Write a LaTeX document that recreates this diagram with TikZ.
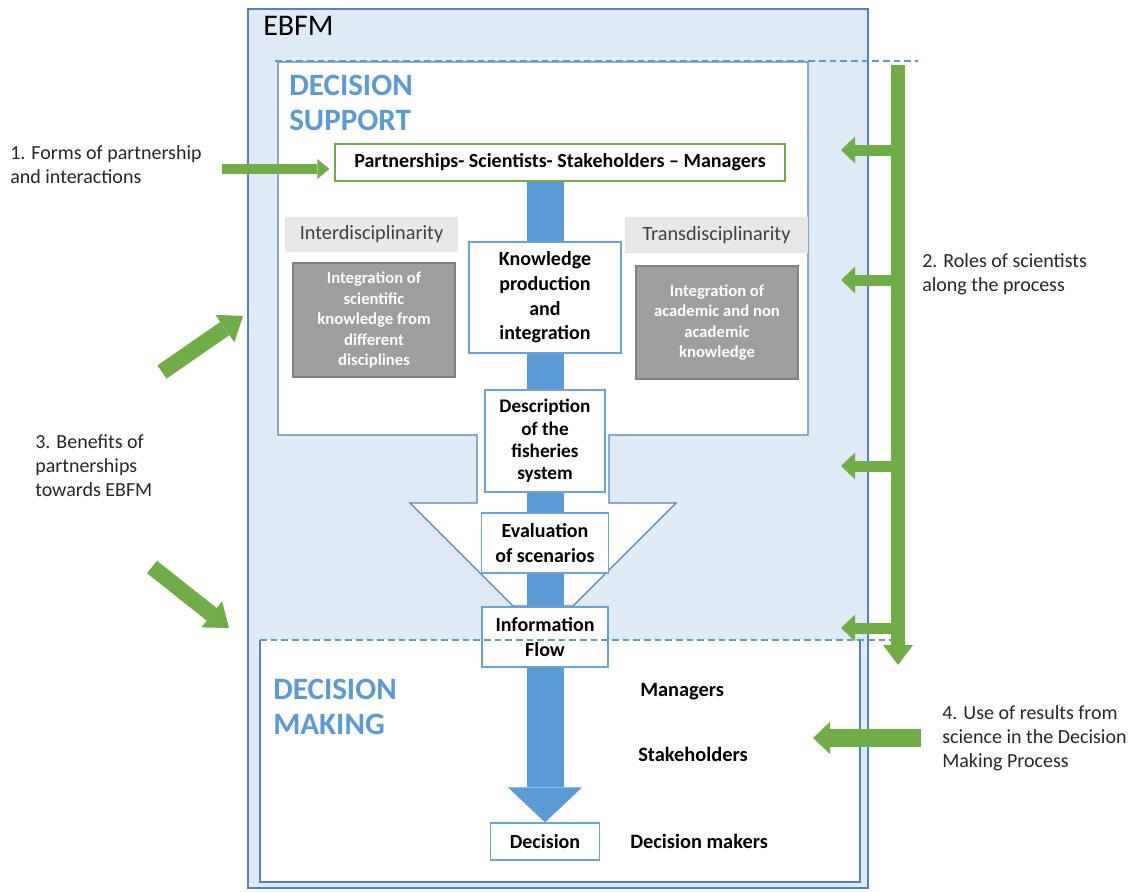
\documentclass[tikz,border=0pt]{standalone}
\usepackage{fontspec}
\setmainfont{Carlito}
\usetikzlibrary{arrows.meta,backgrounds}

\definecolor{ebfmfill}{RGB}{222,234,246}
\definecolor{ebfmline}{RGB}{84,130,190}
\definecolor{titleblue}{RGB}{91,155,213}
\definecolor{boxline}{RGB}{104,163,218}
\definecolor{arrowgreen}{RGB}{112,173,71}
\definecolor{darkgraybox}{RGB}{158,158,158}
\definecolor{grayborder}{RGB}{128,128,128}
\definecolor{lightgraybox}{RGB}{232,232,232}
\definecolor{headtext}{RGB}{64,64,64}

\begin{document}
\begin{tikzpicture}[x=0.75pt,y=0.75pt,yscale=-1,xscale=1,
    dashline/.style={draw=titleblue, line width=0.9pt, dash pattern=on 5pt off 3pt},
    bigtitle/.style={anchor=north west, inner sep=0pt, align=left, text=titleblue, font=\fontsize{23.3}{26.5}\selectfont\bfseries},
    procbox/.style={draw=boxline, fill=white, line width=0.9pt, align=center, inner sep=0pt, font=\fontsize{15}{18.5}\selectfont\bfseries},
    headbox/.style={fill=lightgraybox, inner sep=0pt, text=headtext, font=\fontsize{15.2}{18}\selectfont},
    graybox/.style={draw=grayborder, fill=darkgraybox, line width=0.9pt, align=center, inner sep=0pt, text=white, font=\fontsize{12.5}{15.4}\selectfont\bfseries},
    actor/.style={anchor=base west, inner sep=0pt, font=\fontsize{15.3}{18}\selectfont\bfseries},
    sidelabel/.style={anchor=west, inner sep=0pt, align=left, text=black!85, font=\fontsize{15}{18}\selectfont},
    greenarrow/.style={draw=arrowgreen, line width=#1},
    flowbar/.style={draw=titleblue, line width=27.75pt, -{Triangle[length=26.25pt, width=55.5pt, line width=0pt]}}
  ]
  \useasboundingbox (0,0) rectangle (1136,892);

  % frames
  \begin{scope}[on background layer]
    \draw [ebfmline, fill=ebfmfill, line width=0.9pt] (248,9) rectangle (868,888);
    \draw [ebfmline, fill=white, line width=0.9pt] (278,62) -- (808,62) -- (808,435) -- (609,435) -- (609,503) -- (676,503) -- (573,606) -- (513,606) -- (410,503) -- (477,503) -- (477,435) -- (278,435) -- cycle;
    \fill [white] (260,640) rectangle (860,882);
    \draw [ebfmline, line width=0.9pt] (260,640) -- (260,882) -- (860,882) -- (860,640);
    \draw [dashline] (275,61) -- (918,61);
  \end{scope}

  % titles
  \node [anchor=base west, inner sep=0pt, font=\fontsize{22.5}{26}\selectfont] (ebfm) at (263,36) {EBFM};
  \node [bigtitle] (dstitle) at (289,75) {DECISION\\SUPPORT};
  \node [bigtitle] (dmtitle) at (273,679) {DECISION\\MAKING};

  % decision support
  \node [draw=arrowgreen, fill=white, line width=0.9pt, inner sep=0pt, minimum width=337.5pt, minimum height=27.75pt, font=\fontsize{15}{18}\selectfont\bfseries] (partner) at (560,162.5) {Partnerships- Scientists- Stakeholders -- Managers};

  \node [headbox, minimum width=129.75pt, minimum height=26.25pt] (interhead) at (371.5,234.5) {Interdisciplinarity};
  \node [graybox, minimum width=121.5pt, minimum height=85.5pt] (interbox) at (374,320) {Integration of\\scientific\\knowledge from\\different\\disciplines};
  \node [headbox, minimum width=137.25pt, minimum height=27pt] (transhead) at (716.5,235) {Transdisciplinarity};
  \node [graybox, minimum width=121.5pt, minimum height=84.75pt] (transbox) at (717,322.5) {Integration of\\academic and non\\academic\\knowledge};

  \node [procbox, minimum width=114pt, minimum height=83.25pt] (knowledge) at (545,297.5) {Knowledge\\production\\and\\integration};
  \node [procbox, font=\fontsize{14.4}{16.8}\selectfont\bfseries, minimum width=90pt, minimum height=76.5pt] (description) at (545,441) {Description\\of the\\fisheries\\system};
  \node [procbox, font=\fontsize{15}{18.75}\selectfont\bfseries, minimum width=95.25pt, minimum height=45pt] (evaluation) at (545,543) {Evaluation\\of scenarios};
  \node [procbox, font=\fontsize{15}{18.75}\selectfont\bfseries, minimum width=94.5pt, minimum height=45pt] (information) at (545,637) {Information\\Flow};

  % decision making
  \node [procbox, minimum width=81.75pt, minimum height=27.75pt] (decision) at (545,841.5) {Decision};
  \node [actor] (managers) at (640,696) {Managers};
  \node [actor] (stakeholders) at (638,761) {Stakeholders};
  \node [actor] (decmakers) at (630,848) {Decision makers};
  \draw [dashline] (260,640) -- (905,640);

  % information flow
  \begin{scope}[on background layer]
    \draw [flowbar] (partner.south -| decision.north) -- (decision.north);
  \end{scope}

  % side labels
  \node [sidelabel] (forms) at (10,165) {1. Forms of partnership\\and interactions};
  \node [sidelabel] (roles) at (922,274) {2. Roles of scientists\\along the process};
  \node [sidelabel] (benefits) at (35,466) {3. Benefits of\\partnerships\\towards EBFM};
  \node [sidelabel] (use) at (942,738) {4. Use of results from\\science in the Decision\\Making Process};

  % green arrows
  \coordinate (formstail) at (222,169);
  \draw [greenarrow=7.5pt, -{Triangle[length=9pt, width=15pt, line width=0pt]}] (formstail) -- ([xshift=-3.75pt]partner.west |- formstail);

  \coordinate (rolestop) at (898,65);
  \coordinate (rolesend) at (898,665);
  \foreach \y [count=\i] in {150,280,466,628} {
    \coordinate (roletip\i) at (841,\y);
    \draw [greenarrow=8.25pt, -{Triangle[length=10.5pt, width=20pt, line width=0pt]}] (rolestop |- roletip\i) -- (roletip\i);
  }
  \draw [greenarrow=10.5pt, -{Triangle[length=15pt, width=22.5pt, line width=0pt]}] (rolestop) -- (rolesend);

  \coordinate (benefitup) at (162,372);
  \coordinate (benefituptip) at (243,316);
  \coordinate (benefitdown) at (152,567);
  \coordinate (benefitdowntip) at (229,628);
  \draw [greenarrow=12pt, -{Triangle[length=16.5pt, width=25pt, line width=0pt]}] (benefitup) -- (benefituptip);
  \draw [greenarrow=12pt, -{Triangle[length=16.5pt, width=25pt, line width=0pt]}] (benefitdown) -- (benefitdowntip);

  \coordinate (usetail) at (921,738);
  \coordinate (usetip) at (813,738);
  \draw [greenarrow=13.5pt, -{Triangle[length=12.75pt, width=24pt, line width=0pt]}] (usetail) -- (usetip);
\end{tikzpicture}
\end{document}
